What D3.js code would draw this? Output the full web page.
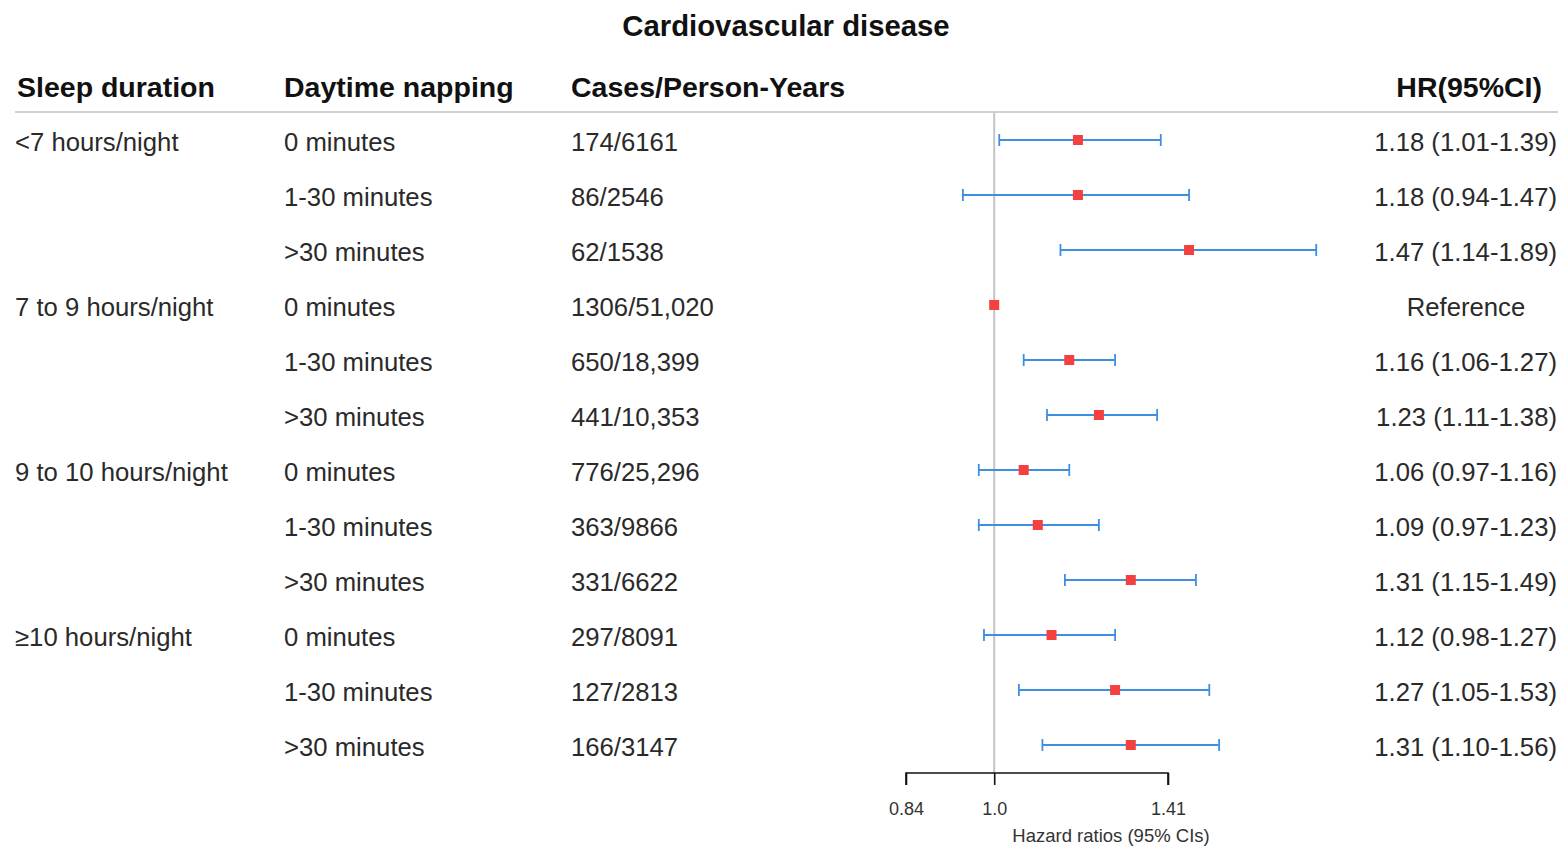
<!DOCTYPE html>
<html>
<head>
<meta charset="utf-8">
<script src="https://cdn.jsdelivr.net/npm/d3@7"></script>
<style>
  body { margin: 0; background: #fff; }
  svg text { font-family: "Liberation Sans", Arial, sans-serif; }
</style>
</head>
<body>
<div id="chart"></div>
<script>
const sleepGroups = ["<7 hours/night", "", "", "7 to 9 hours/night", "", "", "9 to 10 hours/night", "", "", "\u226510 hours/night", "", ""];
const napping = ["0 minutes", "1-30 minutes", ">30 minutes", "0 minutes", "1-30 minutes", ">30 minutes",
  "0 minutes", "1-30 minutes", ">30 minutes", "0 minutes", "1-30 minutes", ">30 minutes"];
const cases = ["174/6161", "86/2546", "62/1538", "1306/51,020", "650/18,399", "441/10,353",
  "776/25,296", "363/9866", "331/6622", "297/8091", "127/2813", "166/3147"];
const hr = [1.18, 1.18, 1.47, 1.0, 1.16, 1.23, 1.06, 1.09, 1.31, 1.12, 1.27, 1.31];
const lower = [1.01, 0.94, 1.14, null, 1.06, 1.11, 0.97, 0.97, 1.15, 0.98, 1.05, 1.10];
const upper = [1.39, 1.47, 1.89, null, 1.27, 1.38, 1.16, 1.23, 1.49, 1.27, 1.53, 1.56];
const hrLabels = ["1.18 (1.01-1.39)", "1.18 (0.94-1.47)", "1.47 (1.14-1.89)", "Reference",
  "1.16 (1.06-1.27)", "1.23 (1.11-1.38)", "1.06 (0.97-1.16)", "1.09 (0.97-1.23)",
  "1.31 (1.15-1.49)", "1.12 (0.98-1.27)", "1.27 (1.05-1.53)", "1.31 (1.10-1.56)"];
const ticks = [0.84, 1.0, 1.41];
const tickLabels = ["0.84", "1.0", "1.41"];

const width = 1561, height = 847;
const rows = hr.map((d, i) => ({
  i, sleep: sleepGroups[i], nap: napping[i], cases: cases[i],
  hr: d, lo: lower[i], hi: upper[i], label: hrLabels[i]
}));

const svg = d3.select("#chart").append("svg")
  .attr("width", width).attr("height", height);

const x = d3.scaleLog().domain([0.84, 1.41]).range([906, 1168]);
const y = d3.scalePoint().domain(d3.range(rows.length)).range([142, 747]);

// title
svg.append("text")
  .attr("x", 786).attr("y", 36)
  .attr("text-anchor", "middle")
  .attr("font-size", 29.3).attr("font-weight", "bold").attr("fill", "#111")
  .text("Cardiovascular disease");

// headers
const headers = [
  { t: "Sleep duration", x: 17, a: "start" },
  { t: "Daytime napping", x: 284, a: "start" },
  { t: "Cases/Person-Years", x: 571, a: "start" },
  { t: "HR(95%CI)", x: 1542, a: "end" }
];
svg.append("g").selectAll("text").data(headers).join("text")
  .attr("x", d => d.x).attr("y", 97)
  .attr("text-anchor", d => d.a)
  .attr("font-size", 28.5).attr("font-weight", "bold").attr("fill", "#111")
  .text(d => d.t);

svg.append("line")
  .attr("x1", 15).attr("x2", 1558).attr("y1", 112).attr("y2", 112)
  .attr("stroke", "#d0d0d0").attr("stroke-width", 2);

// reference line at HR = 1
svg.append("line")
  .attr("x1", x(1)).attr("x2", x(1)).attr("y1", 113).attr("y2", 773)
  .attr("stroke", "#c4c4c4").attr("stroke-width", 2);

// table text
const body = svg.append("g").attr("font-size", 25.7).attr("fill", "#2a2a2a");
const row = body.selectAll("g.row").data(rows).join("g").attr("class", "row")
  .attr("transform", d => `translate(0,${y(d.i)})`);

row.append("text").attr("x", 15).attr("dy", "0.35em").text(d => d.sleep);
row.append("text").attr("x", 284).attr("dy", "0.35em").text(d => d.nap);
row.append("text").attr("x", 571).attr("dy", "0.35em").text(d => d.cases);
row.append("text")
  .attr("x", d => d.lo == null ? 1466 : 1557)
  .attr("text-anchor", d => d.lo == null ? "middle" : "end")
  .attr("dy", "0.35em").text(d => d.label);

// CI whiskers
const ci = svg.append("g").attr("stroke", "#3d8fe3").attr("stroke-width", 1.8)
  .selectAll("g").data(rows.filter(d => d.lo != null)).join("g")
  .attr("transform", d => `translate(0,${y(d.i) - 2})`);
ci.append("line").attr("x1", d => x(d.lo)).attr("x2", d => x(d.hi));
ci.append("line").attr("x1", d => x(d.lo)).attr("x2", d => x(d.lo)).attr("y1", -6).attr("y2", 6);
ci.append("line").attr("x1", d => x(d.hi)).attr("x2", d => x(d.hi)).attr("y1", -6).attr("y2", 6);

// point estimates
svg.append("g").selectAll("rect").data(rows).join("rect")
  .attr("x", d => x(d.hr) - 5).attr("y", d => y(d.i) - 7)
  .attr("width", 10).attr("height", 10)
  .attr("fill", "#f5403f");

// x axis
const axis = d3.axisBottom(x).tickValues(ticks).tickSize(12).tickSizeOuter(0)
  .tickFormat((d, i) => tickLabels[i]);
const ag = svg.append("g").attr("transform", "translate(0,773)").call(axis);
ag.select(".domain").attr("stroke", "#111").attr("stroke-width", 1.6).attr("d", `M${x(0.84)},12V0H${x(1.41)}V12`);
ag.selectAll(".tick line").attr("stroke", "#111").attr("stroke-width", 1.6);
ag.selectAll(".tick text").attr("font-size", 18).attr("fill", "#333").attr("y", 29)
  .attr("font-family", "'Liberation Sans', Arial, sans-serif");

svg.append("text")
  .attr("x", 1111).attr("y", 842).attr("text-anchor", "middle")
  .attr("font-size", 18.5).attr("fill", "#333")
  .text("Hazard ratios (95% CIs)");
</script>
</body>
</html>
